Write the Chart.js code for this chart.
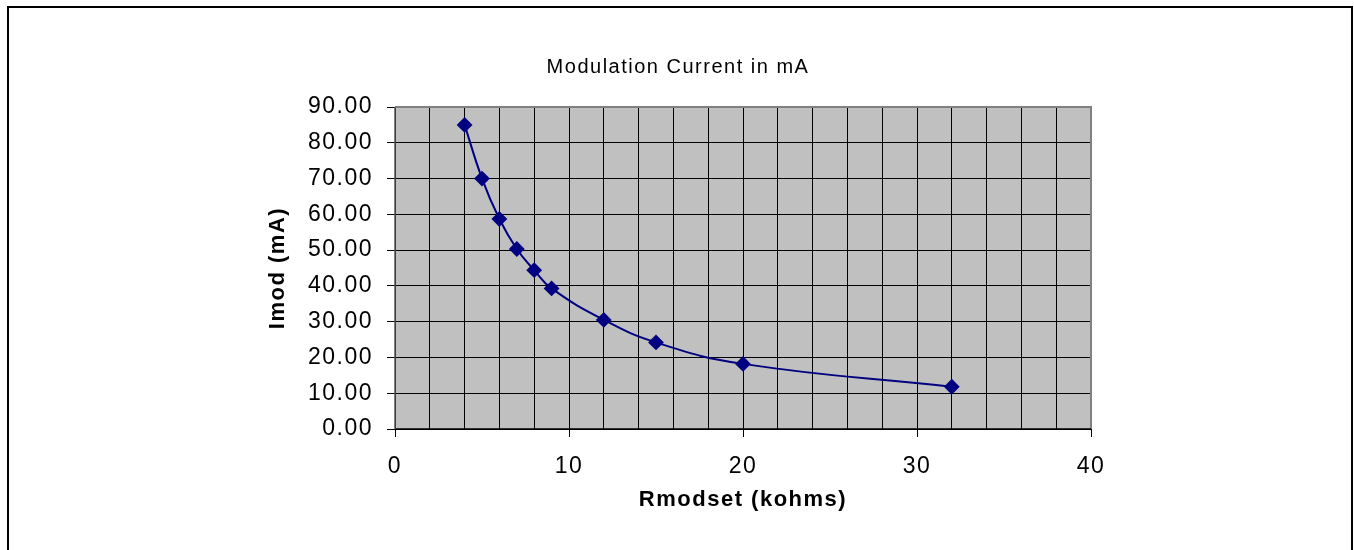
<!DOCTYPE html>
<html>
<head>
<meta charset="utf-8">
<script src="https://cdn.jsdelivr.net/npm/chart.js@4.4.0/dist/chart.umd.min.js"></script>
<style>
  html, body { margin: 0; padding: 0; background: #fff; }
  #wrap { width: 1354px; height: 550px; }
</style>
</head>
<body>
<div id="wrap"><canvas id="myChart" width="1354" height="550"></canvas></div>
<script>
// valores
const rmodset = [4, 5, 6, 7, 8, 9, 12, 15, 20, 32];
const imod = [85.0, 70.0, 58.7, 50.3, 44.4, 39.3, 30.5, 24.2, 18.2, 11.8];
const xTicks = [0, 10, 20, 30, 40];
const yTicks = [0, 10, 20, 30, 40, 50, 60, 70, 80, 90];

const fonte = '"Liberation Sans", Arial, sans-serif';

// fundo cinza, borda e moldura
const fundo = {
  id: 'fundo',
  beforeLayout(chart) {
    chart.ctx.letterSpacing = '1.5px';
  },
  beforeDraw(chart) {
    const ctx = chart.ctx;
    const a = chart.chartArea;
    ctx.letterSpacing = '1.5px';
    ctx.save();
    ctx.fillStyle = '#c0c0c0';
    ctx.fillRect(a.left, a.top, a.right - a.left, a.bottom - a.top);
    ctx.restore();
  },
  beforeDatasetsDraw(chart) {
    const ctx = chart.ctx;
    const a = chart.chartArea;
    ctx.save();
    ctx.strokeStyle = '#808080';
    ctx.lineWidth = 2;
    ctx.beginPath();
    ctx.moveTo(a.left, a.top);
    ctx.lineTo(a.right, a.top);
    ctx.lineTo(a.right, a.bottom);
    ctx.stroke();
    ctx.strokeStyle = '#000';
    ctx.lineWidth = 1.5;
    ctx.beginPath();
    ctx.moveTo(a.left, a.bottom);
    ctx.lineTo(a.right, a.bottom);
    ctx.stroke();
    ctx.strokeStyle = '#555';
    ctx.beginPath();
    ctx.moveTo(a.left, a.top);
    ctx.lineTo(a.left, a.bottom);
    ctx.stroke();
    ctx.restore();
  },
  afterDraw(chart) {
    const ctx = chart.ctx;
    ctx.save();
    ctx.strokeStyle = '#000';
    ctx.lineWidth = 2;
    ctx.strokeRect(8, 7, 1344, 600);
    ctx.restore();
  }
};

const data = {
  datasets: [{
    label: 'Imod',
    data: rmodset.map((x, i) => ({ x: x, y: imod[i] })),
    borderColor: '#000080',
    backgroundColor: '#000080',
    borderWidth: 2,
    tension: 0.45,
    pointStyle: 'rectRot',
    pointRadius: 6.5,
    pointHoverRadius: 6.5
  }]
};

const config = {
  type: 'line',
  data: data,
  options: {
    responsive: false,
    animation: false,
    layout: { padding: { left: 265, right: 263, top: 0, bottom: 33 } },
    plugins: {
      legend: { display: false },
      tooltip: { enabled: false },
      title: {
        display: true,
        text: 'Modulation Current in mA',
        color: '#000',
        font: { family: fonte, size: 20, weight: 'normal' },
        padding: { top: 55, bottom: 28 }
      }
    },
    scales: {
      x: {
        type: 'linear',
        min: 0,
        max: 40,
        afterFit(scale) { scale.height = 88; },
        afterBuildTicks(scale) {
          const t = [];
          for (let v = 0; v <= 40; v += 2) t.push({ value: v });
          scale.ticks = t;
        },
        ticks: {
          color: '#000',
          font: { family: fonte, size: 23 },
          padding: 16,
          maxRotation: 0,
          autoSkip: false,
          callback: v => xTicks.includes(v) ? String(v) : ''
        },
        grid: {
          color: '#000',
          lineWidth: 1,
          tickLength: 8,
          tickColor: c => xTicks.includes(c.tick && c.tick.value) ? '#000' : 'rgba(0,0,0,0)'
        },
        border: { display: false },
        title: {
          display: true,
          text: 'Rmodset (kohms)',
          color: '#000',
          font: { family: fonte, size: 22, weight: 'bold' },
          padding: { top: 4 }
        }
      },
      y: {
        type: 'linear',
        min: 0,
        max: 90,
        afterFit(scale) { scale.width = 130; },
        afterBuildTicks(scale) {
          scale.ticks = yTicks.map(v => ({ value: v }));
        },
        ticks: {
          color: '#000',
          font: { family: fonte, size: 23 },
          padding: 14,
          callback: v => Number(v).toFixed(2)
        },
        grid: {
          color: '#000',
          lineWidth: 1,
          tickLength: 8,
          tickColor: '#000'
        },
        border: { display: false },
        title: {
          display: true,
          text: 'Imod (mA)',
          color: '#000',
          font: { family: fonte, size: 22, weight: 'bold' },
          padding: { top: 0, bottom: 0 }
        }
      }
    }
  },
  plugins: [fundo]
};

const myChart = new Chart(document.getElementById('myChart'), config);
</script>
</body>
</html>
